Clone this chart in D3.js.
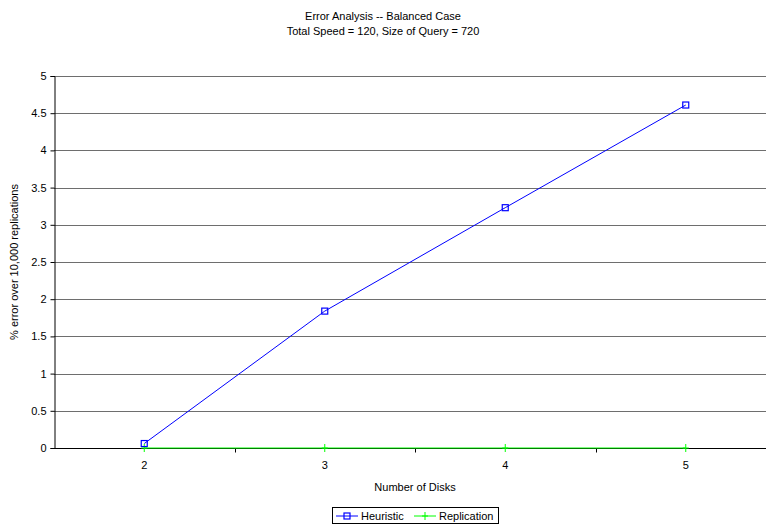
<!DOCTYPE html>
<html>
<head>
<meta charset="utf-8">
<script src="https://cdn.jsdelivr.net/npm/d3@7"></script>
<style>
  html, body { margin: 0; padding: 0; background: #fff; }
  svg { display: block; font-family: Arial, "Liberation Sans", sans-serif; }
</style>
</head>
<body>
<svg id="chart" width="766" height="527"></svg>
<script>
const categories = ["2", "3", "4", "5"];
const heuristic = [0.06, 1.84, 3.23, 4.61];
const replication = [0, 0, 0, 0];
const yTicks = [0, 0.5, 1, 1.5, 2, 2.5, 3, 3.5, 4, 4.5, 5];

const svg = d3.select("#chart");
const plotLeft = 54, plotRight = 776, plotTop = 76, plotBottom = 448;

const x = d3.scaleBand().domain(categories).range([plotLeft, plotRight]).padding(0);
const y = d3.scaleLinear().domain([0, 5]).range([plotBottom, plotTop]);
const cx = c => x(c) + x.bandwidth() / 2;

// Titles
svg.append("text").attr("x", 383).attr("y", 20).attr("text-anchor", "middle")
  .attr("font-size", 11).text("Error Analysis -- Balanced Case");
svg.append("text").attr("x", 383).attr("y", 35).attr("text-anchor", "middle")
  .attr("font-size", 11).text("Total Speed = 120, Size of Query = 720");

// Horizontal gridlines
svg.append("g").selectAll("line").data(yTicks.filter(d => d > 0)).join("line")
  .attr("x1", plotLeft).attr("x2", plotRight)
  .attr("y1", d => Math.round(y(d)) + 0.5).attr("y2", d => Math.round(y(d)) + 0.5)
  .attr("stroke", "#6e6e6e").attr("stroke-width", 1);

// Y axis
const yAxis = d3.axisLeft(y).tickValues(yTicks).tickSize(4).tickPadding(4)
  .tickFormat(d3.format("~g"));
const gy = svg.append("g").attr("transform", `translate(${plotLeft + 0.5},0)`).call(yAxis);
gy.select(".domain").attr("stroke", "#000");
gy.selectAll(".tick line").attr("stroke", "#000");
gy.selectAll(".tick text").attr("font-size", 11).attr("fill", "#000")
  .attr("font-family", "Arial, 'Liberation Sans', sans-serif");

// X axis (ticks between categories)
const gx = svg.append("g").attr("transform", `translate(0,${plotBottom + 0.5})`);
gx.append("line").attr("x1", plotLeft).attr("x2", plotRight).attr("stroke", "#000");
gx.selectAll("line.tk").data(categories.slice(1)).join("line").attr("class", "tk")
  .attr("x1", d => Math.round(x(d)) + 0.5).attr("x2", d => Math.round(x(d)) + 0.5)
  .attr("y1", 0).attr("y2", 4).attr("stroke", "#000");
gx.selectAll("text").data(categories).join("text")
  .attr("x", d => cx(d)).attr("y", 20).attr("text-anchor", "middle")
  .attr("font-size", 11).text(d => d);

// Axis titles
svg.append("text").attr("transform", `translate(18,${(plotTop + plotBottom) / 2}) rotate(-90)`)
  .attr("text-anchor", "middle").attr("font-size", 11)
  .text("% error over 10,000 replications");
svg.append("text").attr("x", (plotLeft + plotRight) / 2).attr("y", 491).attr("text-anchor", "middle")
  .attr("font-size", 11).text("Number of Disks");

// Series
const line = vals => d3.line().x((d, i) => cx(categories[i])).y(d => y(d))(vals);

svg.append("path").attr("d", line(replication)).attr("fill", "none")
  .attr("stroke", "#00ff00").attr("stroke-width", 1);
svg.append("g").selectAll("path").data(replication).join("path")
  .attr("d", (d, i) => {
    const px = cx(categories[i]), py = y(d);
    return `M${px - 3},${py}H${px + 3}M${px},${py - 4}V${py + 4}`;
  })
  .attr("stroke", "#00ff00").attr("stroke-width", 1).attr("fill", "none");

svg.append("path").attr("d", line(heuristic)).attr("fill", "none")
  .attr("stroke", "#0000ff").attr("stroke-width", 1);
svg.append("g").selectAll("rect").data(heuristic).join("rect")
  .attr("x", (d, i) => cx(categories[i]) - 3).attr("y", d => y(d) - 3)
  .attr("width", 6).attr("height", 6)
  .attr("fill", "none").attr("stroke", "#0000ff").attr("stroke-width", 1.2);

// Legend
const lg = svg.append("g").attr("transform", "translate(332,507)");
lg.append("rect").attr("x", 0.5).attr("y", 0.5).attr("width", 166).attr("height", 16)
  .attr("fill", "#fff").attr("stroke", "#000");
const legendItems = [
  { name: "Heuristic", color: "#0000ff", marker: "square", x0: 4 },
  { name: "Replication", color: "#00ff00", marker: "plus", x0: 82 }
];
legendItems.forEach(it => {
  lg.append("line").attr("x1", it.x0).attr("x2", it.x0 + 22).attr("y1", 9).attr("y2", 9)
    .attr("stroke", it.color);
  const mx = it.x0 + 11;
  if (it.marker === "square") {
    lg.append("rect").attr("x", mx - 3).attr("y", 6).attr("width", 6).attr("height", 6)
      .attr("fill", "none").attr("stroke", it.color).attr("stroke-width", 1.2);
  } else {
    lg.append("path").attr("d", `M${mx - 3},9H${mx + 3}M${mx},5V13`).attr("stroke", it.color);
  }
  lg.append("text").attr("x", it.x0 + 25).attr("y", 13).attr("font-size", 11).text(it.name);
});
</script>
</body>
</html>
